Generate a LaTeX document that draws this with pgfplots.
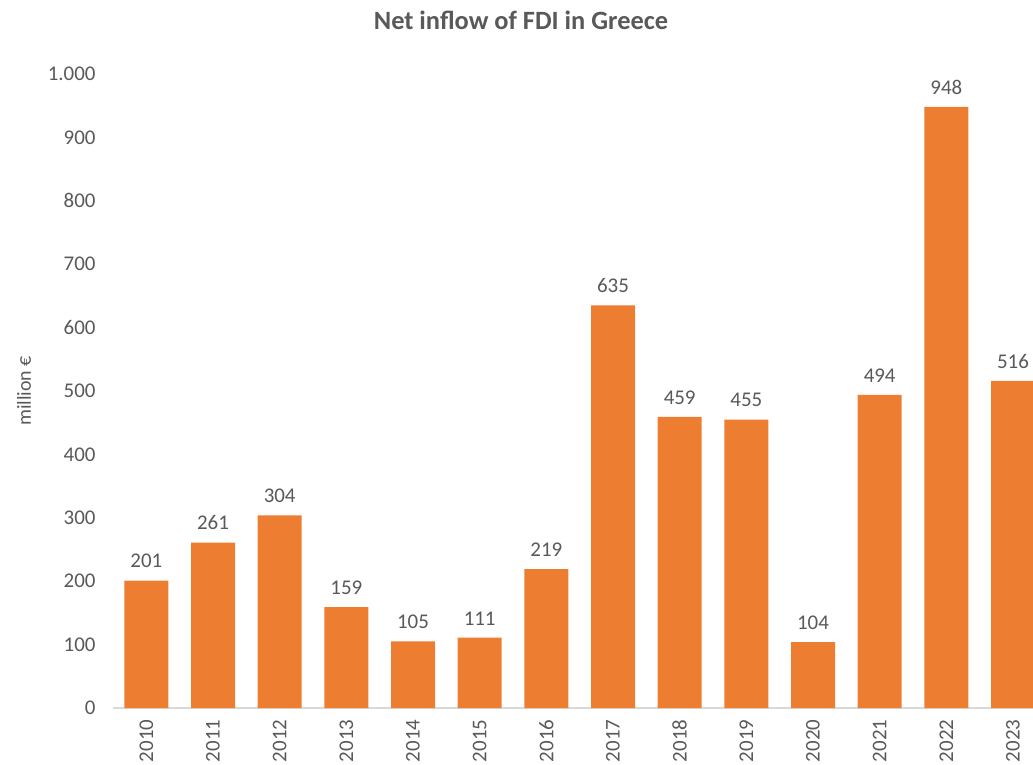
\documentclass[border=0pt]{standalone}
\usepackage{pgfplots}
\pgfplotsset{compat=1.18}
\usepackage{fontspec}
\setmainfont{Carlito}
\definecolor{barorange}{HTML}{ED7D31}
\definecolor{txtgray}{HTML}{595959}
\definecolor{axgray}{HTML}{D9D9D9}

\begin{document}
\begin{tikzpicture}
\begin{axis}[
  at={(0,0)}, anchor=south west,
  scale only axis, width=920bp, height=634bp,
  xmin=-0.5, xmax=13.3, ymin=0, ymax=1000,
  clip=true,
  ybar, bar width=44bp,
  axis x line*=bottom, axis y line=none,
  x axis line style={axgray, line width=1.2bp, -},
  xtick={0,...,13},
  xticklabels={2010,2011,2012,2013,2014,2015,2016,2017,2018,2019,2020,2021,2022,2023},
  xtick style={draw=none},
  xticklabel style={rotate=90, anchor=east, font=\fontsize{21}{22}\selectfont, text=txtgray, xshift=-4bp},
  /pgf/number format/.cd, 1000 sep={.}, assume math mode=true,
  /pgfplots/.cd,
  nodes near coords,
  every node near coord/.append style={font=\fontsize{21}{22}\selectfont, text=txtgray, yshift=9bp},
]
\addplot[fill=barorange, draw=none] coordinates {
  (0,201) (1,261) (2,304) (3,159) (4,105) (5,111) (6,219)
  (7,635) (8,459) (9,455) (10,104) (11,494) (12,948) (13,516)};
\end{axis}
% y tick labels and y label
\begin{axis}[
  at={(0,0)}, anchor=south west,
  scale only axis, width=920bp, height=634bp,
  xmin=-0.5, xmax=13.3, ymin=0, ymax=1000,
  axis x line=none, axis y line*=left,
  y axis line style={draw=none},
  ytick={0,100,...,1000}, ytick style={draw=none},
  yticklabel style={font=\fontsize{21}{22}\selectfont, text=txtgray, xshift=-14bp},
  /pgf/number format/.cd, 1000 sep={.}, assume math mode=true,
  /pgfplots/.cd,
  ylabel={million €},
  ylabel style={at={(axis description cs:-0.0967,0.5)}, anchor=center, font=\fontsize{20}{22}\selectfont, text=txtgray},
]
\end{axis}
\node[font=\bfseries\fontsize{26.5}{30}\selectfont, text=txtgray] at (408bp,688bp) {Net inflow of FDI in Greece};
\pgfresetboundingbox
\useasboundingbox (-113bp,-57bp) rectangle (920bp,708bp);
\end{tikzpicture}
\end{document}
